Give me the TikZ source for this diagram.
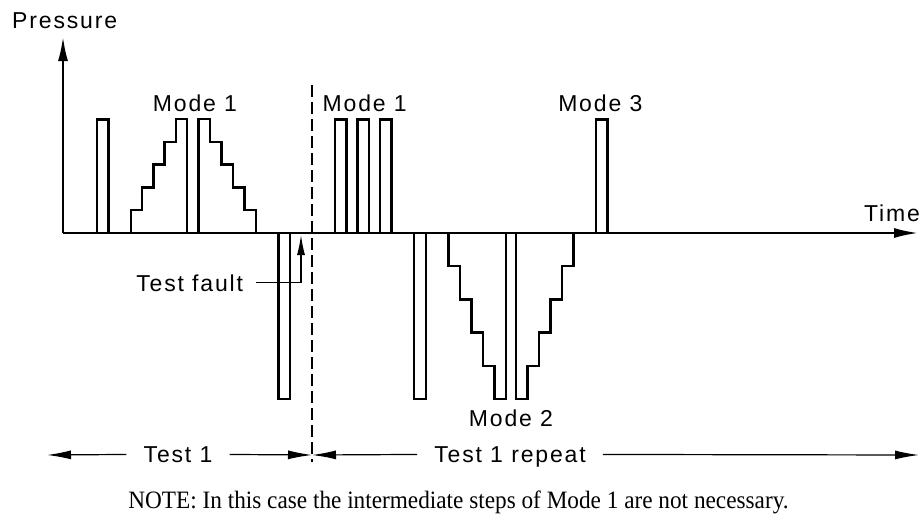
\documentclass[tikz,border=0pt]{standalone}
\usepackage{fontspec}
\setsansfont{Liberation Sans}[LetterSpace=8]
\newfontfamily\notefont{Liberation Serif}[FakeStretch=0.93]
\usetikzlibrary{arrows.meta}

\begin{document}
\begin{tikzpicture}[x=1pt,y=-1pt,
  axis/.style={line width=2.7pt,-{Latex[length=25pt,width=10pt]}},
  pulse/.style={line width=2.4pt},
  dim/.style={line width=1.2pt,-{Latex[length=24pt,width=9pt]}},
  lbl/.style={font=\sffamily\fontsize{23}{27}\selectfont,anchor=base,inner sep=0pt},
  dimlbl/.style={lbl,inner xsep=17pt,text height=16.5pt,text depth=0pt}]
\useasboundingbox (0,0) rectangle (921,515);
% axes
\coordinate (o) at (63,233);
\coordinate (ytop) at (63,36);
\coordinate (xend) at (919,233);
\draw[axis] (o) -- (ytop);
\draw[axis] (o) -- (xend);
\node[lbl] (press) at (64.7,28.3) {Pressure};
\node[lbl] (time) at (892,221.7) {Time};
% single pulses
\foreach \x in {96.7,335,357.3,380,595.7}
  \draw[pulse] (\x,233) |- (\x+11.6,119.4) -- (\x+11.6,233);
\foreach \x in {278.3,414}
  \draw[pulse] (\x,233) |- (\x+11.7,399) -- (\x+11.7,233);
% mode 1 steps
\draw[pulse] (130.7,233) \foreach \i in {1,...,5} {-- ++(0,-22.8) -- ++(11.3,0)} -- ++(0,114);
\draw[pulse] (198.3,233) -- ++(0,-114) \foreach \i in {1,...,5} {-- ++(11.5,0) -- ++(0,22.8)};
% mode 2 steps
\draw[pulse] (448.3,233) \foreach \i in {1,...,5} {-- ++(0,33.2) -- ++(11.5,0)} -- ++(0,-166);
\draw[pulse] (516,233) -- ++(0,166) \foreach \i in {1,...,5} {-- ++(11.46,0) -- ++(0,-33.2)};
\node[lbl] (m1a) at (195,111) {Mode 1};
\node[lbl] (m1b) at (364.7,111.5) {Mode 1};
\node[lbl] (m3) at (600.3,111) {Mode 3};
\node[lbl] (m2) at (511,426.7) {Mode 2};
% test fault
\node[lbl,inner xsep=13pt,text height=17pt,text depth=0pt] (fault) at (189.7,291) {Test fault};
\coordinate (ftip) at (301,235);
\draw[line width=1.2pt,-{Latex[length=20pt,width=8pt]}] (fault.east) -| (ftip);
% split between tests
\coordinate (dtop) at (312,85);
\coordinate (dbot) at (312,462);
\coordinate (split) at (312,455);
\coordinate (left) at (47,455);
\coordinate (right) at (919,455);
\draw[line width=1.2pt,dash pattern=on 12pt off 5pt] (dtop) -- (dbot);
\node[dimlbl] (t1) at (178,462.7) {Test 1};
\node[dimlbl] (t1rep) at (510,462.7) {Test 1 repeat};
\draw[dim] (t1.west) -- (left);
\draw[dim] (t1.east) -- (split);
\draw[dim] (t1rep.west) -- (split);
\draw[dim] (t1rep.east) -- (right);
\node[font=\notefont\fontsize{25}{30}\selectfont,anchor=base,inner sep=0pt] (note) at (458.5,508)
  {NOTE: In this case the intermediate steps of Mode 1 are not necessary.};
\end{tikzpicture}
\end{document}
